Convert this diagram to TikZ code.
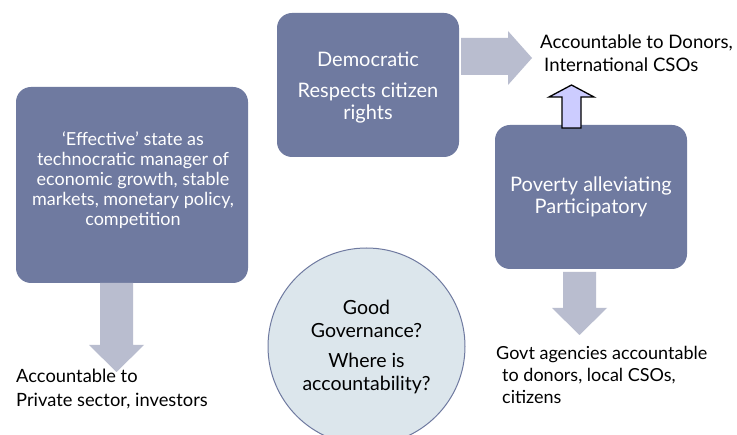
\documentclass[tikz,border=0pt]{standalone}
\usepackage{fontspec}
\setmainfont{Lato}
\definecolor{boxc}{HTML}{6F7AA0}
\definecolor{arrc}{HTML}{B9BDCF}
\definecolor{circc}{HTML}{DCE6EC}
\definecolor{upc}{HTML}{CCCCFF}
\begin{document}
\begin{tikzpicture}[x=1pt,y=-1pt,
  box/.style={draw=none,fill=boxc,rounded corners=15pt,inner sep=0pt},
  boxtxt/.style={text=white,align=center,inner sep=0pt},
  lbl/.style={text=black,align=left,inner sep=0pt,anchor=west,font=\fontsize{18.6}{23}\selectfont},
  blockarrow/.style={fill=arrc,draw=none},
  uparrow/.style={fill=upc,draw=black,line width=1.3pt,line join=miter}]
\useasboundingbox[fill=white] (0,0) rectangle (737,435);
% boxes
\node[box,minimum width=232pt,minimum height=196pt] (left) at (132,185) {};
\node[box,minimum width=182pt,minimum height=144pt] (top) at (368,85) {};
\node[box,minimum width=192pt,minimum height=144pt] (right) at (591,197) {};
% box texts
\node[boxtxt,font=\fontsize{18}{20}\selectfont] (lefttxt) at (133,180)
  {‘Effective’ state as\\technocratic manager of\\economic growth, stable\\markets, monetary policy,\\competition};
\node[boxtxt,font=\fontsize{20}{22}\selectfont] (toptxt) at (368,87)
  {Democratic\\[9pt]Respects citizen\\rights};
\node[boxtxt,font=\fontsize{20}{22}\selectfont] (righttxt) at (591,197)
  {Poverty alleviating\\Participatory};
% circle
\node[circle,fill=circc,draw=boxc,line width=1pt,minimum size=197pt,inner sep=0pt,
  align=center,font=\fontsize{19.5}{23}\selectfont] (circ) at (366.5,346.5)
  {Good\\Governance?\\[7pt]Where is\\accountability?};
% labels
\node[lbl] (donors) at (540,53.5) {Accountable to Donors,\\\hspace*{4pt}International CSOs};
\node[lbl,font=\fontsize{18}{22}\selectfont] (govt) at (496,375) {Govt agencies accountable\\\hspace*{6pt}to donors, local CSOs,\\\hspace*{6pt}citizens};
\node[lbl,font=\fontsize{18.3}{24}\selectfont] (priv) at (16,389) {Accountable to\\Private sector, investors};
% block arrows
\fill[blockarrow] (461,38) -- (508,38) -- (508,31) -- (532,58) -- (508,85) -- (508,75) -- (461,75) -- cycle;
\fill[blockarrow] (100,283) -- (133,283) -- (133,345) -- (144,345) -- (116.5,372) -- (89,345) -- (100,345) -- cycle;
\fill[blockarrow] (563,272) -- (596,272) -- (596,308) -- (607,308) -- (579.5,335) -- (552,308) -- (563,308) -- cycle;
\draw[uparrow] (562,128) -- (562,97) -- (549,97) -- (571.5,85) -- (594,97) -- (581,97) -- (581,128) -- cycle;
\end{tikzpicture}
\end{document}
